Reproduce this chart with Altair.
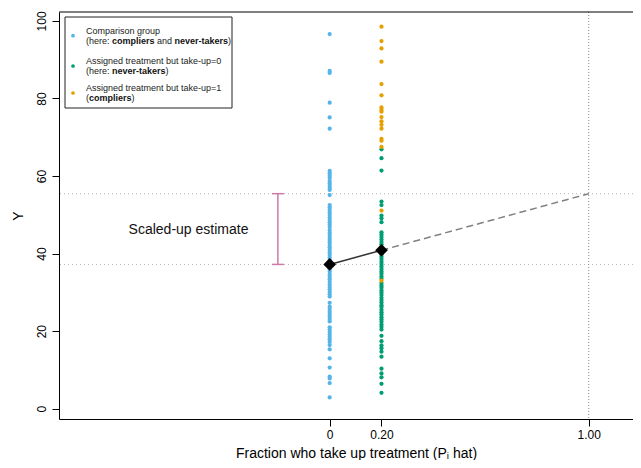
import altair as alt
import pandas as pd

# ---------------- data ----------------
# take-up fractions (P_i hat) of the two groups
x_comparison = 0.0
x_treatment = 0.20

# comparison group (compliers and never-takers), plotted at x = 0
blue_y = [96.6, 87.1, 86.6, 78.9, 75.1, 72.2,
          61.3, 60.7, 60.1, 59.5, 58.7, 58.1, 57.5, 56.9, 56.4, 55.1,
          52.5, 51.9, 51.3, 50.6, 50.0, 49.3, 48.7, 48.1, 47.5, 46.9,
          46.1, 45.4, 44.8,
          44.1, 43.5, 42.9, 42.2, 41.6, 41.0, 40.3, 39.7, 39.0, 38.4,
          37.8, 37.2, 36.6, 35.9, 35.3, 34.6, 34.0, 33.4, 32.7, 32.0,
          31.4, 30.8, 30.1, 29.5, 28.9,
          27.3,
          26.3, 25.7, 25.0, 24.4, 23.8, 23.1, 22.5,
          21.0, 20.4, 19.8, 19.1, 18.5, 17.9, 17.2, 16.4,
          15.3, 13.0, 10.6, 8.3, 7.8, 6.6, 2.9]

# assigned treatment but take-up = 0 (never-takers), plotted at x = 0.20
green_y = [66.9, 64.6, 61.4, 53.4, 52.5, 49.8, 49.1, 48.1,
           45.5, 44.9, 44.3, 43.6, 43.0, 42.4, 41.7, 41.1, 40.5, 39.8,
           39.2, 38.6, 37.9, 37.3, 36.7, 36.0, 35.4, 34.8, 34.1, 33.5,
           32.4, 31.8, 31.2, 30.5, 29.9, 29.3, 28.6, 28.0, 27.4, 26.7, 26.2,
           25.5, 24.9, 24.3, 23.6, 23.0, 22.4, 21.7, 21.1, 20.4,
           18.8, 17.4, 16.3, 15.6, 14.7, 13.4, 10.3, 9.1, 8.1, 6.4, 4.1]

# assigned treatment but take-up = 1 (compliers), plotted at x = 0.20
orange_y = [98.5, 94.8, 92.9, 89.5, 83.7, 80.8, 77.7, 77.1, 76.6, 75.2,
            74.1, 73.2, 72.2, 69.6, 69.1, 67.5, 51.1, 33.0]

mean_comparison = 37.2      # black diamond at x = 0
mean_treatment = 40.85      # black diamond at x = 0.20
scaled_estimate = 55.45     # extrapolated value at x = 1.00
bracket_x = -0.20
estimate_label = "Scaled-up estimate"
estimate_label_pos = (-0.545, 46.1)

x_ticks = [0, 0.2, 1.0]
y_ticks = [0, 20, 40, 60, 80, 100]
x_title = "Fraction who take up treatment (P\u1d62 hat)"
y_title = "Y"

group_names = ["comparison", "never", "complier"]
group_colors = ["#56B4E9", "#009E73", "#E69F00"]

legend_lines = [
    # (entry, line, [(text, bold), ...])
    (0, 0, [("Comparison group", False)]),
    (0, 1, [("(here: ", False), ("compliers", True), (" and ", False),
            ("never-takers", True), (")", False)]),
    (1, 0, [("Assigned treatment but take-up=0", False)]),
    (1, 1, [("(here: ", False), ("never-takers", True), (")", False)]),
    (2, 0, [("Assigned treatment but take-up=1", False)]),
    (2, 1, [("(", False), ("compliers", True), (")", False)]),
]

# ---------------- layout ----------------
W, H = 574, 407
XDOM = [-1.045, 1.171]
YDOM = [-2.66, 102.3]
FONT = "Liberation Sans, Arial, Helvetica, sans-serif"
LEG_FS = 9

# Arial-metric character widths (per 1000 em) for placing mixed bold text
_w_reg = {"(": 333, ")": 333, " ": 278, ":": 278, "-": 333, "=": 584}
_w_bold = {"(": 333, ")": 333, " ": 278, "-": 333}
_reg_letters = dict(a=556, b=556, c=500, d=556, e=556, f=278, g=556, h=556, i=222,
                    k=500, l=222, m=833, n=556, o=556, p=556, r=333, s=500, t=278,
                    u=556, v=500, w=722, y=500)
_bold_letters = dict(a=556, c=556, d=611, e=556, i=278, k=556, l=278, m=889, n=611,
                     o=611, p=611, r=389, s=556, t=333, v=556)


def text_width(s, bold):
    table = _bold_letters if bold else _reg_letters
    extra = _w_bold if bold else _w_reg
    return sum(table.get(ch, extra.get(ch, 556)) for ch in s) * LEG_FS / 1000.0


# ---------------- tables ----------------
pts = pd.DataFrame(
    [{"x": x_comparison, "y": v, "g": "comparison", "o": 0} for v in blue_y]
    + [{"x": x_treatment, "y": v, "g": "never", "o": 1} for v in green_y]
    + [{"x": x_treatment, "y": v, "g": "complier", "o": 2} for v in orange_y]
)
means = pd.DataFrame({"x": [x_comparison, x_treatment],
                      "y": [mean_comparison, mean_treatment]})
extrap = pd.DataFrame({"x": [x_treatment, 1.0],
                       "y": [mean_treatment, scaled_estimate]})
hlines = pd.DataFrame({"y": [mean_comparison, scaled_estimate]})
vline = pd.DataFrame({"x": [1.0]})
bracket = pd.DataFrame({"x": [bracket_x], "y": [mean_comparison], "y2": [scaled_estimate]})
cap_half = 6 * (XDOM[1] - XDOM[0]) / W
caps = pd.DataFrame({"x": [bracket_x - cap_half] * 2, "x2": [bracket_x + cap_half] * 2,
                     "y": [mean_comparison, scaled_estimate]})
label_df = pd.DataFrame({"x": [estimate_label_pos[0]], "y": [estimate_label_pos[1]],
                         "t": [estimate_label]})

# legend geometry (pixels inside the plot area)
LEG_BOX = dict(x=6, x2=173, y=5, y2=96)
line_y = {(0, 0): 18.5, (0, 1): 29, (1, 0): 49, (1, 1): 59, (2, 0): 76, (2, 1): 86}
dot_y = [23.7, 54, 81]
text_x0 = 27
dot_x = 14

seg_rows = []
for entry, line, segs in legend_lines:
    cx = text_x0
    for s, b in segs:
        lead = len(s) - len(s.lstrip(" "))
        shown = s.strip(" ")
        seg_rows.append({"px": cx + text_width(" " * lead, b),
                         "py": line_y[(entry, line)], "t": shown, "b": b})
        cx += text_width(s, b)
segs_df = pd.DataFrame(seg_rows)
dots_df = pd.DataFrame({"px": [dot_x] * 3, "py": dot_y, "g": group_names})

# ---------------- encodings ----------------
xscale = alt.Scale(domain=XDOM, nice=False, zero=False)
yscale = alt.Scale(domain=YDOM, nice=False, zero=False)
xaxis = alt.Axis(values=x_ticks, title=x_title,
                 labelExpr="datum.value == 0 ? '0' : format(datum.value, '.2f')",
                 grid=False, tickSize=7, labelPadding=3, labelFontSize=12,
                 titleFontSize=14, titleFontWeight="normal", titleX=297, titleY=34,
                 titleBaseline="middle", titleAlign="center")
yaxis = alt.Axis(values=y_ticks, title=y_title, grid=False, tickSize=7,
                 labelAngle=270, labelAlign="center", labelBaseline="bottom",
                 labelPadding=4, labelFontSize=12, titleFontSize=14,
                 titleFontWeight="normal", titleAngle=270, titleX=-41, titleY=H / 2,
                 titleBaseline="middle", titleAlign="center")


def X(f="x"):
    return alt.X(f, type="quantitative", scale=xscale, axis=xaxis)


def Y(f="y"):
    return alt.Y(f, type="quantitative", scale=yscale, axis=yaxis)


color = alt.Color("g:N", scale=alt.Scale(domain=group_names, range=group_colors),
                  legend=None)

l_hlines = alt.Chart(hlines).mark_rule(color="#b5b5b5", strokeDash=[1, 3],
                                       strokeWidth=1).encode(y=Y())
l_vline = alt.Chart(vline).mark_rule(color="#8a8a8a", strokeDash=[1, 2],
                                     strokeWidth=1).encode(x=X())
l_points = alt.Chart(pts).mark_circle(size=18, opacity=1).encode(
    x=X(), y=Y(), color=color, order="o:Q")
l_solid = alt.Chart(means).mark_line(color="#333333", strokeWidth=1.5).encode(x=X(), y=Y())
l_dash = alt.Chart(extrap).mark_line(color="#808080", strokeWidth=1.5,
                                     strokeDash=[7, 4]).encode(x=X(), y=Y())
l_diam = alt.Chart(means).mark_point(shape="diamond", filled=True, color="black",
                                     size=160, opacity=1).encode(x=X(), y=Y())
l_bracket = alt.Chart(bracket).mark_rule(color="#CC79A7", strokeWidth=1.5).encode(
    x=X(), y=Y(), y2="y2:Q")
l_caps = alt.Chart(caps).mark_rule(color="#CC79A7", strokeWidth=1.5).encode(
    x=X(), x2="x2:Q", y=Y())
l_label = alt.Chart(label_df).mark_text(font=FONT, fontSize=14, color="#111111",
                                        align="center", baseline="middle").encode(
    x=X(), y=Y(), text="t:N")

one = pd.DataFrame({"a": [0]})
l_top = alt.Chart(one).mark_rule(color="black", strokeWidth=1).encode(
    x=alt.value(0), x2=alt.value(W), y=alt.value(0))
l_box = alt.Chart(one).mark_rect(fill="white", stroke="#222222", strokeWidth=1).encode(
    x=alt.value(LEG_BOX["x"]), x2=alt.value(LEG_BOX["x2"]),
    y=alt.value(LEG_BOX["y"]), y2=alt.value(LEG_BOX["y2"]))
l_dots = alt.Chart(dots_df).mark_circle(size=14, opacity=1).encode(
    x=alt.X("px:Q", scale=None), y=alt.Y("py:Q", scale=None), color=color)
l_txt_reg = alt.Chart(segs_df[~segs_df["b"]]).mark_text(
    font=FONT, fontSize=LEG_FS, align="left", baseline="middle", color="#222222").encode(
    x=alt.X("px:Q", scale=None), y=alt.Y("py:Q", scale=None), text="t:N")
l_txt_bold = alt.Chart(segs_df[segs_df["b"]]).mark_text(
    font=FONT, fontSize=LEG_FS, fontWeight="bold", align="left", baseline="middle",
    color="#111111").encode(
    x=alt.X("px:Q", scale=None), y=alt.Y("py:Q", scale=None), text="t:N")

chart = alt.layer(
    l_hlines, l_vline, l_points, l_solid, l_dash, l_diam, l_bracket, l_caps, l_label,
    l_top, l_box, l_dots, l_txt_reg, l_txt_bold
).properties(
    width=W, height=H,
    autosize=alt.AutoSizeParams(type="none"),
    padding={"left": 51, "top": 4, "right": 0, "bottom": 41},
    background="white",
).configure_view(strokeWidth=0).configure_axis(
    domainColor="black", tickColor="black", labelColor="black", titleColor="black",
    labelFont=FONT, titleFont=FONT, domainWidth=1, tickWidth=1,
).configure_text(font=FONT)

chart.save("out.html", embed_options={"renderer": "svg", "actions": False})
